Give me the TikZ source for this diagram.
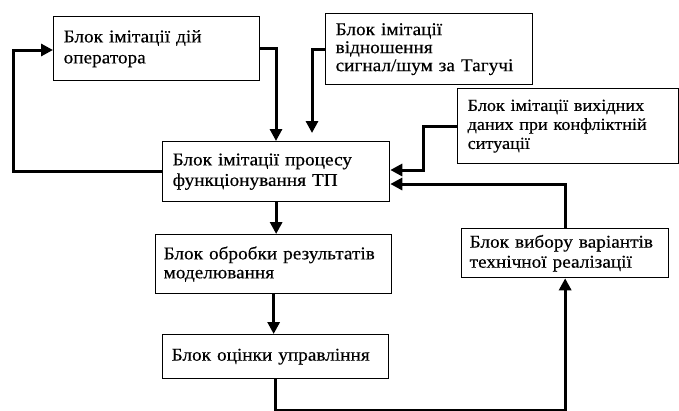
\documentclass[tikz,border=0pt]{standalone}
\usepackage{fontspec}
\setmainfont{Liberation Serif}[FakeStretch=1.07,FakeBold=0.4]
\usetikzlibrary{arrows.meta}
\begin{document}
\begin{tikzpicture}[x=1pt,y=-1pt,
  box/.style={draw, line width=1.3pt, anchor=north west, inner sep=0pt,
    align=left, font=\fontsize{18}{20.5}\selectfont},
  arr/.style={line width=3pt, -{Triangle[length=12pt,width=12pt]}}]
\useasboundingbox (0,0) rectangle (679,410);
\node[box, minimum width=206pt, minimum height=64pt, text width=186pt, font=\fontsize{18}{21}\selectfont] (op) at (53,16) {Блок імітації дій\\оператора};
\node[box, minimum width=207pt, minimum height=71pt, text width=187pt, font=\fontsize{18}{18}\selectfont] (tag) at (325,13) {Блок імітації\\відношення\\сигнал/шум за Тагучі};
\node[box, minimum width=221pt, minimum height=75pt, text width=201pt, font=\fontsize{17}{19}\selectfont] (conf) at (457,88) {Блок імітації вихідних\\даних при конфліктній\\ситуації};
\node[box, minimum width=227pt, minimum height=60pt, text width=207pt] (proc) at (162,141) {Блок імітації процесу\\функціонування ТП};
\node[box, minimum width=236pt, minimum height=59pt, text width=220pt, font=\fontsize{18}{19}\selectfont] (obr) at (155,234) {Блок обробки результатів\\моделювання};
\node[box, minimum width=226pt, minimum height=44pt, text width=210pt] (oc) at (162,334) {\hspace*{1pt}Блок оцінки управління};
\node[box, minimum width=207pt, minimum height=49pt, text width=191pt, font=\fontsize{18}{20}\selectfont] (vyb) at (461,228) {Блок вибору варіантів\\технічної реалізації};
\coordinate (tagend) at (312,133);
\draw[arr] (op.east) -| (276,0 |- proc.north);
\draw[arr] (tag.west) -| (tagend);
\draw[arr] (conf.west) -| (423,170) -- (proc.east |- 0,170);
\draw[arr] (proc.west) -| (13,50) -- (op.west |- 0,50);
\draw[arr] (proc.south) -- (proc.south |- obr.north);
\draw[arr] (obr.south) -- (obr.south |- oc.north);
\draw[arr] (oc.south) -- (oc.south |- 0,410.5) -| (vyb.south);
\draw[arr] (vyb.north) |- (proc.east |- 0,184);
\end{tikzpicture}
\end{document}
